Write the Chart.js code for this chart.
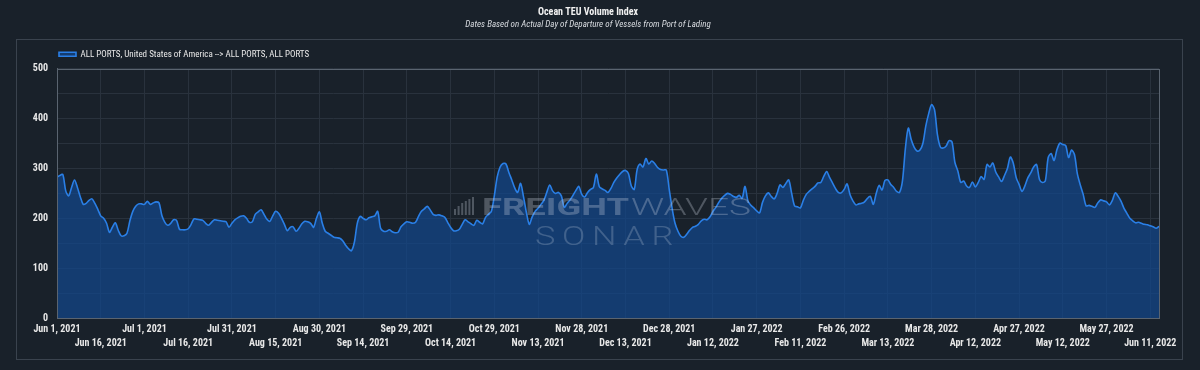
<!DOCTYPE html>
<html>
<head>
<meta charset="utf-8">
<script src="https://cdn.jsdelivr.net/npm/chart.js@4/dist/chart.umd.min.js"></script>
<style>
html, body { margin: 0; padding: 0; background: #19212a; }
</style>
</head>
<body>
<canvas id="teu-chart" width="1200" height="370"></canvas>
<script>
// daily index, Jun 1 2021 .. Jun 14 2022
const startYear = 2021, startMonth = 5, startDay = 1;
const tickEvery = 15;
const seriesLabel = "ALL PORTS, United States of America --> ALL PORTS, ALL PORTS";
const yTicks = [0, 100, 200, 300, 400, 500];
const teuValues = [
    283, 286, 288, 255, 245, 262, 277, 262, 243, 228, 230, 236, 239, 230, 218,
    205, 200, 190, 172, 182, 191, 176, 165, 165, 170, 195, 214, 224, 229, 229,
    228, 234, 228, 231, 233, 231, 205, 192, 186, 190, 197, 196, 178, 177, 177,
    179, 188, 199, 198, 197, 196, 190, 186, 192, 197, 196, 195, 194, 193, 182,
    190, 197, 201, 204, 205, 200, 192, 193, 208, 213, 217, 208, 198, 194, 205,
    214, 210, 200, 188, 175, 182, 183, 174, 180, 189, 194, 193, 190, 182, 200,
    213, 190, 174, 170, 166, 162, 161, 160, 155, 146, 139, 135, 152, 190, 204,
    200, 197, 201, 203, 205, 214, 180, 174, 174, 177, 173, 171, 172, 183, 189,
    193, 192, 190, 192, 204, 214, 219, 224, 217, 208, 206, 207, 205, 202, 192,
    182, 175, 175, 178, 188, 197, 193, 189, 186, 196, 192, 189, 202, 208, 214,
    245, 283, 303, 310, 309, 292, 277, 261, 252, 270, 244, 212, 188, 203, 214,
    220, 228, 236, 252, 267, 255, 250, 252, 245, 222, 230, 237, 246, 256, 264,
    248, 243, 252, 258, 262, 289, 264, 259, 256, 252, 260, 272, 281, 288, 294,
    296, 290, 265, 258, 298, 309, 303, 320, 309, 315, 310, 302, 298, 297, 297,
    258, 220, 190, 174, 164, 162, 168, 176, 182, 184, 188, 195, 198, 197, 203,
    214, 222, 232, 240, 246, 250, 248, 244, 242, 246, 240, 264, 235, 226, 221,
    215, 211, 232, 245, 251, 244, 239, 250, 267, 262, 270, 277, 250, 225, 223,
    221, 236, 248, 254, 259, 264, 271, 272, 284, 294, 282, 271, 260, 252, 251,
    258, 269, 248, 235, 227, 229, 230, 233, 240, 244, 228, 250, 266, 257, 276,
    277, 268, 262, 254, 252, 275, 340, 381, 358, 343, 335, 337, 350, 385, 410,
    428, 418, 368, 343, 341, 345, 356, 353, 312, 295, 272, 275, 265, 262, 273,
    263, 272, 284, 278, 308, 303, 311, 293, 283, 274, 286, 300, 323, 311, 282,
    268, 254, 265, 281, 291, 303, 308, 278, 272, 275, 322, 330, 316, 338, 351,
    348, 346, 322, 337, 328, 289, 267, 248, 225, 226, 224, 222, 231, 237, 235,
    233, 227, 236, 251, 244, 234, 220, 210, 200, 195, 191, 192, 190, 188, 187,
    185, 183, 180, 184
];

const fontFamily = "'Roboto Condensed', 'Liberation Sans Narrow', 'DejaVu Sans Condensed', Roboto, sans-serif";

let dateLabels = [];
for (let i = 0; i < teuValues.length; i++) {
    let d = new Date(Date.UTC(startYear, startMonth, startDay + i));
    dateLabels.push(d.toLocaleDateString("en-US", {month: "short", day: "numeric", year: "numeric", timeZone: "UTC"}));
}

function fitText(ctx, text, x, y, w) {
    let m = ctx.measureText(text).width;
    ctx.save();
    ctx.translate(x, y);
    ctx.scale(w / m, 1);
    ctx.fillText(text, 0, 0);
    ctx.restore();
}

const framePlugin = {
    id: "frame",
    beforeDraw(chart) {
        const ctx = chart.ctx;
        ctx.save();
        ctx.fillStyle = "#19212a";
        ctx.fillRect(0, 0, chart.width, chart.height);
        ctx.strokeStyle = "#3a434e";
        ctx.lineWidth = 1;
        ctx.strokeRect(16.5, 39.5, 1166, 320);
        ctx.restore();
    },
    afterDatasetsDraw(chart) {
        // SONAR watermark
        const ctx = chart.ctx;
        ctx.save();
        ctx.fillStyle = "rgba(205, 212, 224, 0.30)";
        let bars = [6, 9, 12, 14, 16, 18];
        for (let i = 0; i < bars.length; i++) {
            ctx.fillRect(454 + i * 3.6, 215 - bars[i], 2, bars[i]);
        }
        ctx.textBaseline = "alphabetic";
        ctx.font = "bold 24px Roboto, sans-serif";
        fitText(ctx, "FREIGHT", 482, 215, 147);
        ctx.font = "300 24px Roboto, sans-serif";
        fitText(ctx, "WAVES", 631, 215, 120);
        ctx.fillStyle = "rgba(195, 205, 220, 0.26)";
        ctx.font = "300 26px Roboto, sans-serif";
        ctx.letterSpacing = "5px";
        fitText(ctx, "SONAR", 535, 245, 145);
        ctx.restore();
    },
    afterDraw(chart) {
        const a = chart.chartArea;
        const ctx = chart.ctx;
        ctx.save();
        ctx.strokeStyle = "#5a6470";
        ctx.lineWidth = 1;
        ctx.strokeRect(Math.round(a.left) + 0.5, Math.round(a.top) + 0.5, Math.round(a.right - a.left), Math.round(a.bottom - a.top));
        ctx.restore();
    }
};

let teuChart = new Chart("teu-chart", {
    type: "line",
    data: {
        datasets: [
            {
                label: seriesLabel,
                data: teuValues.map((v, i) => ({x: i, y: v})),
                borderColor: "#2a7fe6",
                backgroundColor: "rgba(18, 70, 140, 0.72)",
                fill: "origin",
                borderWidth: 1.6,
                pointRadius: 0,
                tension: 0.3,
            },
        ]
    },
    options: {
        responsive: false,
        animation: false,
        layout: {
            padding: {left: 17, right: 41, top: 0, bottom: 16}
        },
        plugins: {
            title: {
                display: true,
                text: "Ocean TEU Volume Index",
                color: "#f2f2f2",
                font: {family: fontFamily, size: 10, weight: "bold"},
                padding: {top: 6, bottom: 1}
            },
            subtitle: {
                display: true,
                text: "Dates Based on Actual Day of Departure of Vessels from Port of Lading",
                color: "#d9dce1",
                font: {family: fontFamily, size: 9, style: "italic"},
                padding: {top: 0, bottom: 18}
            },
            legend: {
                align: "start",
                fullSize: false,
                labels: {
                    boxWidth: 17,
                    boxHeight: 4,
                    padding: 2,
                    color: "#e8e8e8",
                    font: {family: fontFamily, size: 9}
                }
            },
            tooltip: {enabled: false}
        },
        scales: {
            x: {
                type: "linear",
                min: 0,
                max: teuValues.length - 1,
                grid: {color: "#29323d", drawTicks: false},
                border: {color: "#5a6470"},
                ticks: {
                    stepSize: tickEvery,
                    includeBounds: false,
                    autoSkip: false,
                    maxRotation: 0,
                    minRotation: 0,
                    padding: 4,
                    color: "#e8e8e8",
                    font: {family: fontFamily, size: 10, weight: "bold", lineHeight: 1.4},
                    callback: function (value, index) {
                        let lbl = dateLabels[value];
                        return index % 2 ? ["", lbl] : lbl;
                    }
                }
            },
            y: {
                min: 0,
                max: 500,
                afterFit: function (scale) { scale.width = 40; },
                grid: {color: "#29323d", drawTicks: false},
                border: {color: "#5a6470"},
                ticks: {
                    stepSize: 50,
                    padding: 9,
                    color: "#e8e8e8",
                    font: {family: fontFamily, size: 10, weight: "bold"},
                    callback: function (value) {
                        return yTicks.includes(value) ? value : "";
                    }
                }
            }
        }
    },
    plugins: [framePlugin]
});
</script>
</body>
</html>
